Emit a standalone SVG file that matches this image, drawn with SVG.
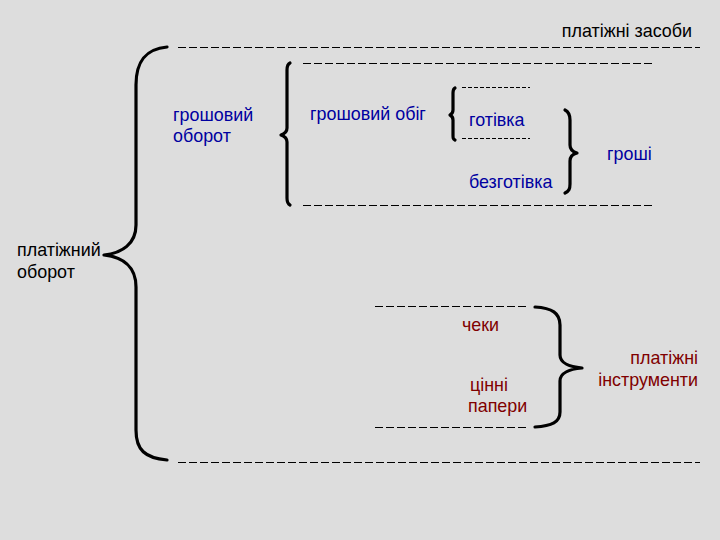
<svg xmlns="http://www.w3.org/2000/svg" width="720" height="540" viewBox="0 0 720 540">
<style>
text{font-family:"Liberation Sans",Arial,sans-serif;font-size:17.9px}
.k{fill:#000}
.b{fill:#0000a0}
.r{fill:#800000}
.br{fill:none;stroke:#000;stroke-width:3.2;stroke-linecap:round;stroke-linejoin:round}
.d{stroke:#000;stroke-width:1;stroke-dasharray:8 3}
.ds{stroke:#000;stroke-width:1;stroke-dasharray:4 2}
</style>
<rect width="720" height="540" fill="#dddddd"/>
<g id="connectors">
<path class="br" d="M167,47 C145,49 136,62 136,85 L136,225 C136,244 122,253 104,255 C122,257 136,266 136,287 L136,430 C136,450 145,458 167,460"/>
<path class="br" d="M290,63 C288,64 287,66 287,70 L287,128 C287,132 284,134 281,135 C284,136 287,138 287,142 L287,198 C287,202 288,204 290,205"/>
<path class="br" d="M455,88 C453,89 453,91 453,93 L453,110 C453,113 452,114 450,115 C452,116 453,117 453,120 L453,135 C453,138 453,139 455,140"/>
<path class="br" d="M565,110 C569,112 570,115 570,120 L570,145 C570,149 573,152 577,153 C573,154 570,157 570,161 L570,184 C570,189 569,191 565,193"/>
<path class="br" d="M535,307 C552,308 560,313 560,325 L560,355 C560,363 570,367 582,368 C570,369 560,373 560,381 L560,412 C560,422 552,426 535,427"/>
<line class="d" x1="178" y1="47.5" x2="700" y2="47.5"/>
<line class="d" x1="303" y1="63.5" x2="653" y2="63.5"/>
<line class="ds" x1="462" y1="87.5" x2="530" y2="87.5"/>
<line class="ds" x1="462" y1="138.5" x2="530" y2="138.5"/>
<line class="d" x1="303" y1="205.5" x2="653" y2="205.5"/>
<line class="d" x1="375" y1="306.5" x2="528" y2="306.5"/>
<line class="d" x1="375" y1="427.5" x2="528" y2="427.5"/>
<line class="d" x1="178" y1="462.5" x2="700" y2="462.5"/>
</g>
<g id="platizhni-zasoby"><text class="k" x="692" y="37" text-anchor="end">платіжні засоби</text></g>
<g id="platizhnyi-oborot"><text class="k" x="17" y="256">платіжний</text><text class="k" x="17" y="278">оборот</text></g>
<g id="hroshovyi-oborot"><text class="b" x="173" y="121">грошовий</text><text class="b" x="173" y="142">оборот</text></g>
<g id="hroshovyi-obih"><text class="b" x="310" y="120">грошовий обіг</text></g>
<g id="hotivka"><text class="b" x="469" y="126">готівка</text></g>
<g id="bezhotivka"><text class="b" x="469" y="188">безготівка</text></g>
<g id="hroshi"><text class="b" x="607" y="160">гроші</text></g>
<g id="cheky"><text class="r" x="462" y="331">чеки</text></g>
<g id="tsinni-papery"><text class="r" x="470" y="391">цінні</text><text class="r" x="468" y="412">папери</text></g>
<g id="platizhni-instrumenty"><text class="r" x="698" y="364" text-anchor="end">платіжні</text><text class="r" x="698" y="386" text-anchor="end">інструменти</text></g>
</svg>
